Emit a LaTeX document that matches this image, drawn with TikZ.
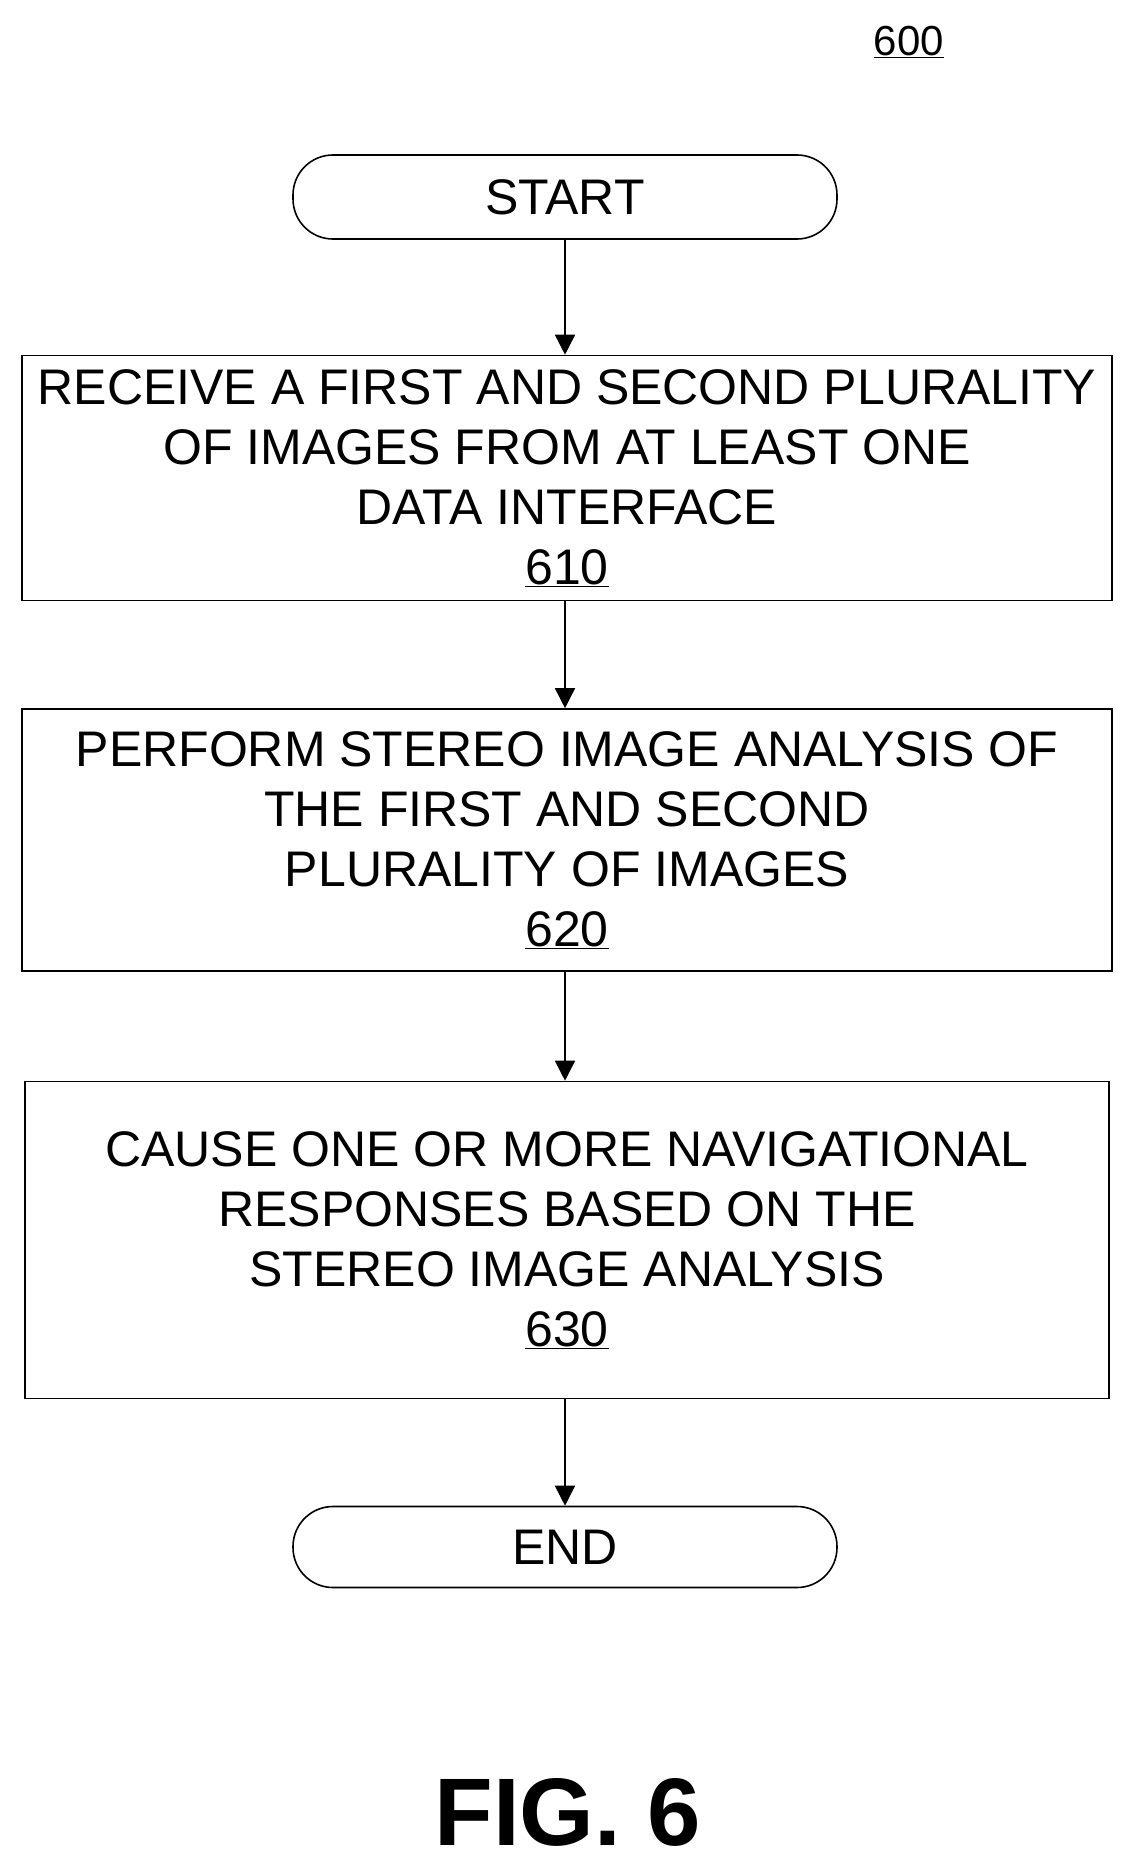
\documentclass[tikz,border=0pt]{standalone}
\usepackage{fontspec}
\setmainfont{Liberation Sans}
\usetikzlibrary{arrows.meta}
\begin{document}
\begin{tikzpicture}[x=1pt,y=-1pt,
  box/.style={draw,line width=1.6pt,align=center,font=\fontsize{50}{60}\selectfont,inner sep=0},
  term/.style={box,rounded corners=40pt},
  arr/.style={-{Triangle[length=20pt,width=20pt]},line width=1.6pt}]
\useasboundingbox (0,0) rectangle (1130,1865);
\node[font=\fontsize{42}{48}\selectfont] (lbl) at (909,42) {\underline{600}};
\node[term,minimum width=544pt,minimum height=84pt] (start) at (565,197) {START};
\node[box,minimum width=1090pt,minimum height=245pt] (b610) at (567,478) {RECEIVE A FIRST AND SECOND PLURALITY\\OF IMAGES FROM AT LEAST ONE\\DATA INTERFACE\\\underline{610}};
\node[box,minimum width=1090pt,minimum height=262pt] (b620) at (567,840) {PERFORM STEREO IMAGE ANALYSIS OF\\THE FIRST AND SECOND\\PLURALITY OF IMAGES\\\underline{620}};
\node[box,minimum width=1084pt,minimum height=317pt] (b630) at (567,1240) {CAUSE ONE OR MORE NAVIGATIONAL\\RESPONSES BASED ON THE\\STEREO IMAGE ANALYSIS\\\underline{630}};
\node[term,minimum width=544pt,minimum height=81pt] (end) at (565,1547) {END};
\node[font=\bfseries\fontsize{96}{110}\selectfont] (fig) at (568,1812) {FIG. 6};
\draw[arr] (start) -- (start|-b610.north);
\draw[arr] (b610.south-|start) -- (start|-b620.north);
\draw[arr] (b620.south-|start) -- (start|-b630.north);
\draw[arr] (b630.south-|start) -- (end);
\end{tikzpicture}
\end{document}
